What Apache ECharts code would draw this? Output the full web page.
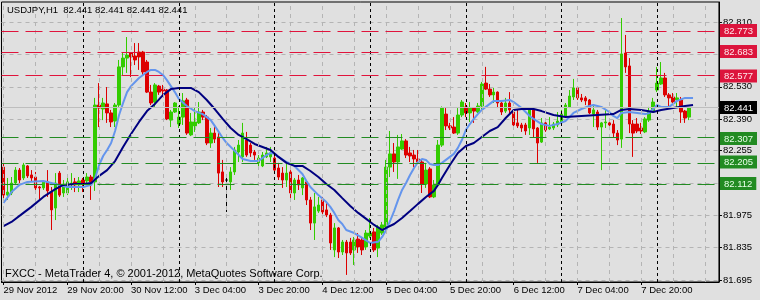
<!DOCTYPE html>
<html><head><meta charset="utf-8">
<script src="https://cdn.jsdelivr.net/npm/echarts@6/dist/echarts.min.js"></script>
<style>html,body{margin:0;padding:0;background:#E0E0E0}#c{width:760px;height:300px}</style>
</head><body><div id="c"></div>
<script>
const candleOpen=[82.183,82.062,82.071,82.114,82.170,82.136,82.188,82.149,82.140,82.097,
82.093,82.119,82.075,82.006,82.157,82.071,82.071,82.110,82.119,82.106,
82.127,82.123,82.140,82.119,82.451,82.434,82.456,82.417,82.382,82.451,
82.616,82.654,82.676,82.663,82.680,82.680,82.637,82.507,82.464,82.533,
82.520,82.516,82.386,82.421,82.369,82.399,82.473,82.322,82.361,82.374,
82.421,82.399,82.287,82.330,82.313,82.162,82.127,82.119,82.162,82.248,
82.227,82.300,82.278,82.248,82.201,82.188,82.227,82.227,82.222,82.179,
82.157,82.127,82.162,82.071,82.127,82.093,82.119,82.041,81.941,81.993,
82.041,81.998,81.976,81.825,81.920,81.816,81.859,81.859,81.825,81.872,
81.868,81.838,81.885,81.903,81.833,81.898,81.924,82.183,82.240,82.205,
82.261,82.296,82.244,82.235,82.218,82.205,82.110,82.175,82.054,82.106,
82.278,82.412,82.361,82.356,82.330,82.408,82.443,82.417,82.438,82.421,
82.447,82.546,82.520,82.495,82.507,82.460,82.425,82.460,82.421,82.374,
82.365,82.365,82.352,82.430,82.352,82.291,82.374,82.348,82.352,82.365,
82.378,82.404,82.443,82.486,82.525,82.482,82.482,82.473,82.412,82.421,
82.356,82.374,82.374,82.369,82.330,82.304,82.676,82.620,82.369,82.369,
82.352,82.335,82.386,82.421,82.516,82.542,82.568,82.495,82.486,82.473,
82.473,82.425,82.399];
const candleClose=[82.062,82.075,82.114,82.170,82.127,82.192,82.145,82.136,82.093,82.093,
82.119,82.080,81.998,82.114,82.062,82.110,82.119,82.114,82.106,82.123,
82.114,82.140,82.119,82.451,82.438,82.460,82.417,82.378,82.451,82.616,
82.654,82.667,82.659,82.646,82.659,82.594,82.507,82.460,82.538,82.507,
82.512,82.391,82.421,82.460,82.399,82.469,82.330,82.378,82.378,82.421,
82.399,82.287,82.330,82.304,82.157,82.119,82.127,82.162,82.257,82.278,
82.330,82.235,82.244,82.235,82.222,82.235,82.244,82.244,82.170,82.140,
82.127,82.157,82.071,82.127,82.106,82.136,82.041,81.941,82.011,82.019,
81.989,81.976,81.855,81.920,81.816,81.859,81.812,81.812,81.868,81.838,
81.825,81.898,81.898,81.825,81.924,81.933,82.183,82.240,82.205,82.270,
82.296,82.235,82.231,82.218,82.205,82.110,82.170,82.054,82.106,82.278,
82.438,82.361,82.352,82.330,82.408,82.464,82.417,82.438,82.425,82.447,
82.542,82.520,82.495,82.507,82.460,82.421,82.460,82.430,82.365,82.361,
82.352,82.339,82.434,82.348,82.287,82.374,82.343,82.356,82.369,82.382,
82.412,82.451,82.490,82.525,82.482,82.473,82.469,82.417,82.430,82.356,
82.374,82.378,82.365,82.330,82.300,82.672,82.616,82.369,82.330,82.339,
82.339,82.391,82.421,82.464,82.546,82.568,82.495,82.482,82.464,82.482,
82.421,82.395,82.441];
const candleLow=[82.049,82.041,82.062,82.106,82.114,82.127,82.136,82.119,82.084,82.041,
82.084,82.054,81.911,81.954,82.054,82.054,82.062,82.084,82.075,82.075,
82.075,82.114,82.041,82.080,82.356,82.386,82.374,82.356,82.356,82.443,
82.581,82.590,82.572,82.624,82.603,82.581,82.503,82.451,82.443,82.495,
82.486,82.386,82.356,82.417,82.352,82.365,82.322,82.317,82.335,82.369,
82.386,82.278,82.266,82.287,82.097,82.097,81.989,82.084,82.149,82.205,
82.205,82.227,82.227,82.214,82.183,82.183,82.222,82.205,82.157,82.127,
82.093,82.097,82.041,82.041,82.084,82.062,82.019,81.911,81.868,81.985,
81.976,81.967,81.825,81.794,81.790,81.803,81.717,81.803,81.760,81.812,
81.803,81.825,81.877,81.816,81.794,81.890,81.911,82.140,82.162,82.132,
82.257,82.222,82.205,82.183,82.201,82.071,82.093,82.049,82.049,82.097,
82.270,82.343,82.343,82.326,82.322,82.399,82.399,82.378,82.374,82.417,
82.430,82.516,82.486,82.460,82.438,82.408,82.417,82.408,82.352,82.352,
82.335,82.322,82.322,82.313,82.201,82.287,82.335,82.343,82.343,82.356,
82.374,82.395,82.438,82.473,82.473,82.464,82.451,82.412,82.356,82.343,
82.170,82.352,82.343,82.313,82.278,82.266,82.590,82.330,82.227,82.330,
82.326,82.330,82.378,82.417,82.507,82.538,82.486,82.443,82.460,82.443,
82.374,82.374,82.386];
const candleHigh=[82.201,82.136,82.140,82.183,82.179,82.201,82.192,82.170,82.162,82.101,
82.127,82.170,82.097,82.157,82.166,82.127,82.149,82.157,82.136,82.140,
82.136,82.157,82.149,82.482,82.546,82.482,82.529,82.430,82.460,82.646,
82.676,82.745,82.680,82.719,82.719,82.685,82.646,82.538,82.546,82.538,
82.538,82.520,82.430,82.464,82.447,82.503,82.482,82.417,82.438,82.464,
82.430,82.408,82.352,82.356,82.330,82.214,82.136,82.183,82.270,82.300,
82.374,82.335,82.287,82.257,82.235,82.248,82.270,82.270,82.235,82.201,
82.183,82.205,82.170,82.136,82.149,82.140,82.127,82.054,82.071,82.054,
82.054,82.032,81.985,81.941,81.924,81.868,81.868,81.877,81.881,81.898,
81.881,81.911,81.963,81.920,81.933,81.946,82.214,82.339,82.287,82.322,
82.326,82.304,82.270,82.257,82.257,82.214,82.201,82.183,82.127,82.300,
82.445,82.438,82.374,82.399,82.438,82.473,82.460,82.464,82.440,82.460,
82.551,82.616,82.542,82.525,82.510,82.473,82.482,82.507,82.430,82.430,
82.374,82.374,82.438,82.438,82.356,82.395,82.386,82.399,82.378,82.421,
82.430,82.460,82.516,82.564,82.529,82.499,82.490,82.477,82.451,82.430,
82.378,82.430,82.378,82.386,82.343,82.827,82.754,82.654,82.386,82.395,
82.374,82.399,82.443,82.482,82.616,82.637,82.590,82.503,82.503,82.503,
82.486,82.430,82.441];

const fastMaBars=[0,2,4,6,10,13,16,20,22,23,24,25,26,27,28,29,30,31,32,34,36,37,38,39,40,41,42,43,44,46,48,50,52,53,54,55,56,58,60,62,64,65,66,67,68,69,71,73,75,76,77,79,81,82,83,84,85,86,88,90,92,94,95,96,97,98,99,100,101,102,103,104,105,106,107,108,109,110,111,112,113,114,115,116,117,118,119,120,121,122,123,125,127,128,129,130,131,132,133,135,137,139,141,142,143,145,147,148,150,152,153,154,155,157,159,161,162,163,164,165,167,169,171,173];
const fastMaValues=[82.028,82.075,82.106,82.119,82.123,82.110,82.097,82.097,82.106,82.136,
82.192,82.231,82.257,82.287,82.339,82.408,82.460,82.507,82.533,82.568,
82.594,82.603,82.603,82.594,82.581,82.559,82.533,82.507,82.477,82.447,
82.425,82.412,82.386,82.361,82.335,82.309,82.287,82.253,82.218,82.209,
82.209,82.222,82.235,82.244,82.240,82.227,82.205,82.188,82.153,82.123,
82.097,82.062,82.032,82.011,81.985,81.954,81.937,81.911,81.898,81.877,
81.855,81.860,81.881,81.911,81.950,81.993,82.041,82.084,82.114,82.149,
82.179,82.205,82.218,82.214,82.196,82.192,82.192,82.201,82.214,82.227,
82.240,82.266,82.300,82.343,82.369,82.391,82.412,82.430,82.443,82.456,
82.469,82.469,82.473,82.464,82.451,82.438,82.421,82.404,82.391,82.369,
82.361,82.369,82.382,82.399,82.417,82.434,82.447,82.451,82.443,82.421,
82.404,82.395,82.417,82.421,82.417,82.412,82.417,82.434,82.451,82.443,
82.443,82.469,82.482,82.482];
const slowMaBars=[0,2,5,7,10,13,15,18,20,22,24,26,28,30,32,34,36,38,40,42,44,47,49,51,53,55,57,59,61,63,65,67,69,71,73,75,77,79,81,83,85,87,89,91,93,95,96,98,100,102,104,106,108,109,110,112,114,116,118,120,122,124,126,128,130,133,135,138,141,145,149,153,155,157,160,163,165,168,171,173];
const slowMaValues=[81.928,81.946,81.985,82.011,82.054,82.088,82.106,82.110,82.110,82.114,
82.145,82.170,82.209,82.270,82.326,82.378,82.425,82.456,82.494,82.520,
82.525,82.525,82.507,82.473,82.434,82.391,82.352,82.322,82.304,82.283,
82.270,82.257,82.227,82.201,82.188,82.188,82.166,82.140,82.110,82.084,
82.049,82.015,81.985,81.959,81.933,81.911,81.920,81.937,81.963,81.993,
82.024,82.054,82.080,82.106,82.136,82.192,82.244,82.274,82.287,82.313,
82.339,82.356,82.395,82.430,82.434,82.434,82.425,82.408,82.399,82.404,
82.408,82.412,82.430,82.434,82.430,82.421,82.430,82.438,82.447,82.451];

const xTickBars=[0,16,32,48,64,80,96,112,128,144,160];
const xTickLabels=['29 Nov 2012','29 Nov 20:00','30 Nov 12:00','3 Dec 04:00','3 Dec 20:00','4 Dec 12:00','5 Dec 04:00','5 Dec 20:00','6 Dec 12:00','7 Dec 04:00','7 Dec 20:00'];
const daySeparatorBars=[20,44,68,92,116,140,164];
const yTickValues=[82.810,82.670,82.530,82.390,82.255,82.115,81.975,81.835,81.695];
const resistanceLevels=[82.773,82.683,82.577];
const supportLevels=[82.307,82.205,82.112];
const currentPrice=82.441;
const barCount=180;

const FONT='"Liberation Sans", Arial, sans-serif';
const categories=[];for(let i=0;i<barCount;i++)categories.push(String(i));
const candles=candleOpen.map((o,i)=>[o,candleClose[i],candleLow[i],candleHigh[i]]);
const labelMap={};xTickBars.forEach((b,k)=>labelMap[b]=xTickLabels[k]);
const gridBars=[];for(let i=0;i<barCount;i+=8)gridBars.push(i);

const markData=[];
gridBars.forEach(b=>{if(daySeparatorBars.indexOf(b)<0)markData.push({xAxis:b,lineStyle:{color:'#B4B4B4',type:[4,4],width:1}});});
daySeparatorBars.forEach(b=>markData.push({xAxis:b,lineStyle:{color:'#000',type:[3,3],width:1}}));
resistanceLevels.forEach(v=>markData.push({yAxis:v,lineStyle:{color:'#E0143C',type:[17,7],width:1}}));
supportLevels.forEach(v=>markData.push({yAxis:v,lineStyle:{color:'#228B22',type:[17,7],width:1}}));
markData.push({yAxis:currentPrice,lineStyle:{color:'#BEBEBE',type:'solid',width:1}});

const boxValues=resistanceLevels.concat([currentPrice]).concat(supportLevels);
const boxStyle={};
resistanceLevels.forEach(v=>boxStyle[v.toFixed(3)]='r');
supportLevels.forEach(v=>boxStyle[v.toFixed(3)]='g');
boxStyle[currentPrice.toFixed(3)]='k';

const yMin=81.6864, yMax=82.8964;
const chart=echarts.init(document.getElementById('c'),null,{renderer:'canvas'});
chart.setOption({
  animation:false,
  backgroundColor:'#E0E0E0',
  textStyle:{fontFamily:FONT},
  grid:{left:1.5,top:2,width:720,height:280,show:true,borderColor:'#000',borderWidth:1,backgroundColor:'#E0E0E0'},
  xAxis:{type:'category',data:categories,boundaryGap:true,
    axisLine:{show:true,lineStyle:{color:'#000'}},
    axisTick:{show:true,alignWithLabel:true,length:3,interval:(i)=>labelMap[i]!==undefined,lineStyle:{color:'#000'}},
    axisLabel:{show:true,interval:(i)=>labelMap[i]!==undefined,formatter:(v,i)=>labelMap[i]||'',align:'left',margin:3,color:'#000',fontSize:9.5,fontFamily:FONT},
    splitLine:{show:false}},
  yAxis:[{type:'value',position:'right',min:yMin,max:yMax,scale:true,
    axisLine:{show:true,lineStyle:{color:'#000'}},
    axisTick:{show:true,length:3,customValues:yTickValues,lineStyle:{color:'#000'}},
    axisLabel:{show:true,customValues:yTickValues,formatter:v=>v.toFixed(3),margin:4,color:'#000',fontSize:9.5,fontFamily:FONT},
    splitLine:{show:true,lineStyle:{color:'#B4B4B4',type:[4,4]}}},
   {type:'value',position:'right',min:yMin,max:yMax,z:5,
    axisLine:{show:false},axisTick:{show:false},splitLine:{show:false},
    axisLabel:{show:true,customValues:boxValues,margin:1,fontSize:9.5,fontFamily:FONT,
      formatter:v=>'{'+(boxStyle[v.toFixed(3)]||'k')+'|'+v.toFixed(3)+'}',
      rich:{
        r:{backgroundColor:'#DC143C',color:'#FFE8EC',padding:[2,4,1,4],fontSize:9.5,fontFamily:FONT},
        g:{backgroundColor:'#228B22',color:'#E8FFE8',padding:[2,4,1,4],fontSize:9.5,fontFamily:FONT},
        k:{backgroundColor:'#000000',color:'#FFFFFF',padding:[2,4,1,4],fontSize:9.5,fontFamily:FONT}
      }}}],
  series:[
    {type:'line',name:'levels',data:[],z:1,silent:true,
     markLine:{symbol:['none','none'],silent:true,animation:false,label:{show:false},data:markData}},
    {type:'candlestick',name:'USDJPY',data:candles,z:2,barWidth:3,
     itemStyle:{color:'#33CC00',color0:'#DD0000',borderColor:'#33CC00',borderColor0:'#DD0000',borderColorDoji:'#000000',borderWidth:1}},
    {type:'line',name:'fastMA',data:fastMaBars.map((b,k)=>[b,fastMaValues[k]]),z:3,showSymbol:false,symbol:'none',
     lineStyle:{color:'#6495ED',width:2}},
    {type:'line',name:'slowMA',data:slowMaBars.map((b,k)=>[b,slowMaValues[k]]),z:3,showSymbol:false,symbol:'none',
     lineStyle:{color:'#000080',width:2}}
  ],
  graphic:[
    {type:'text',left:7,top:5,z:10,style:{text:'USDJPY,H1  82.441 82.441 82.441 82.441',font:'9.5px '+FONT,fill:'#000'}},
    {type:'text',left:5,top:268,z:10,style:{text:'FXCC - MetaTrader 4, © 2001-2012, MetaQuotes Software Corp.',font:'11px '+FONT,fill:'#000'}}
  ]
});
</script></body></html>
